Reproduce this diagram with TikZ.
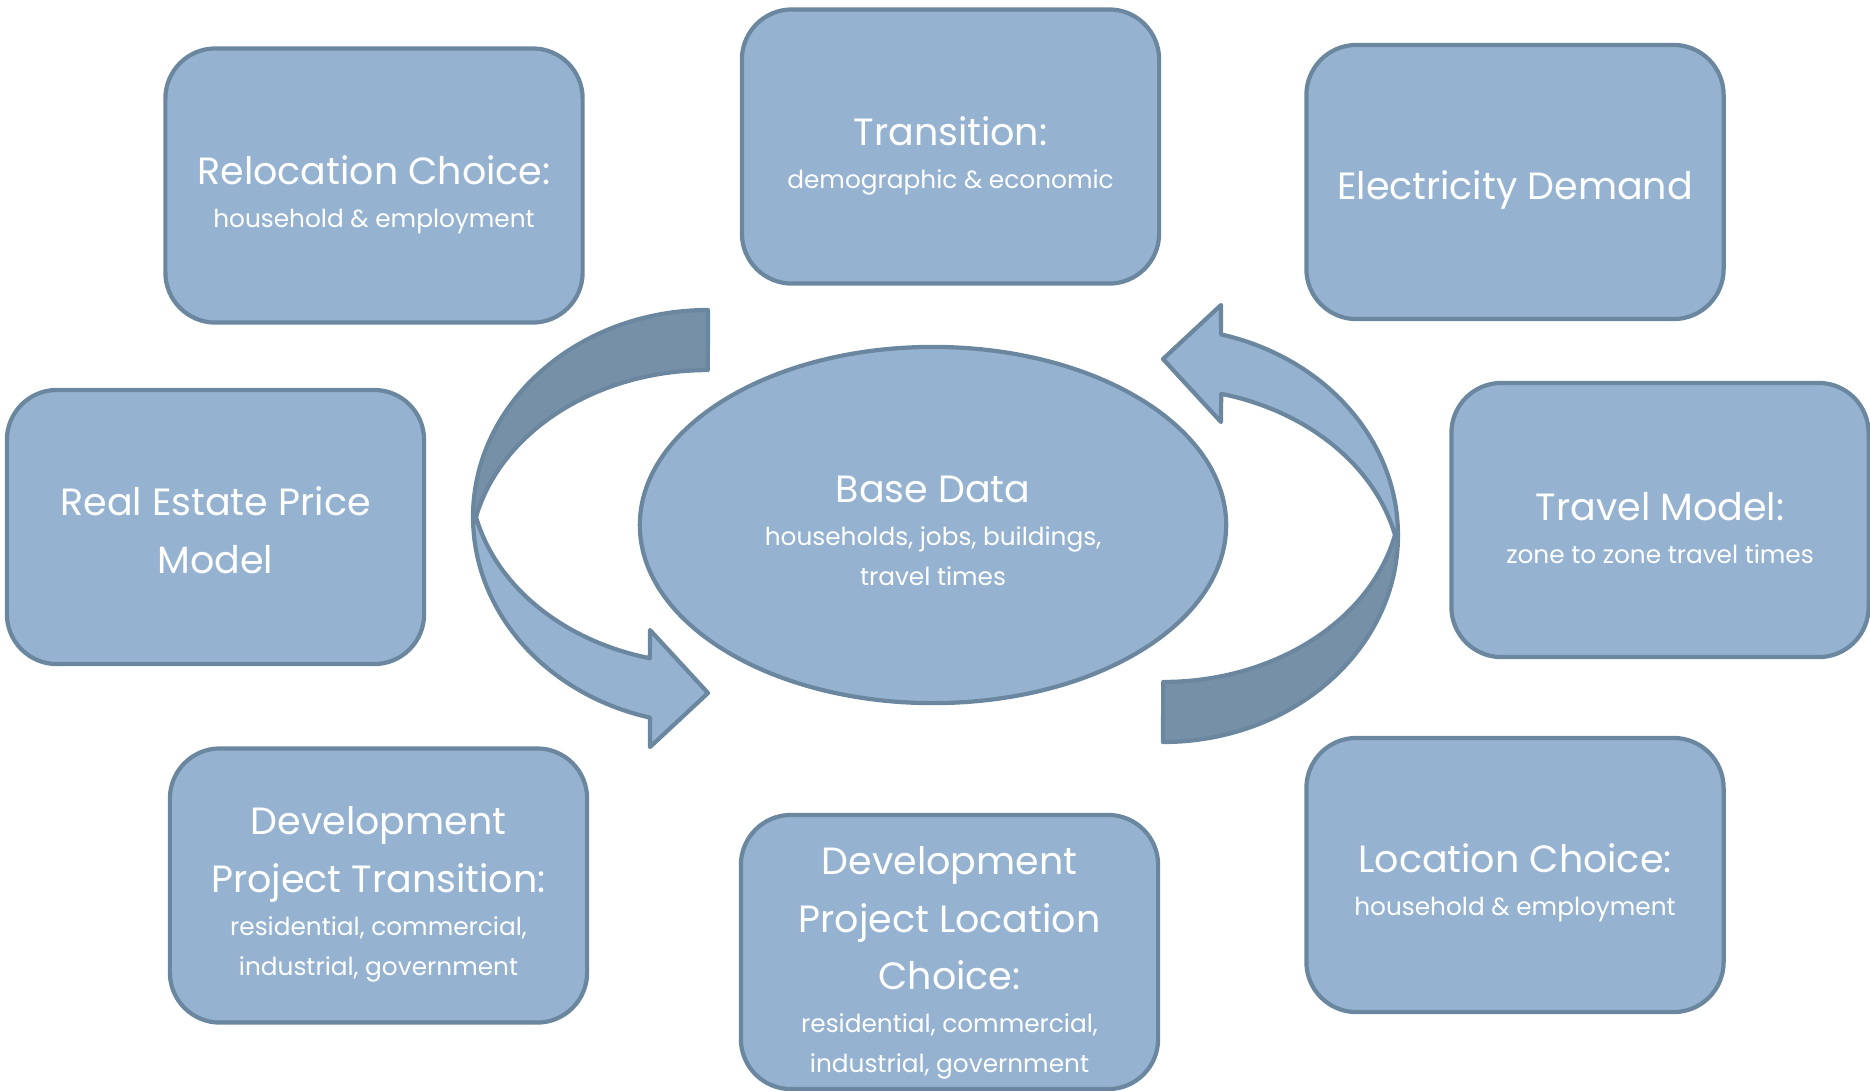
\documentclass[tikz,border=0pt]{standalone}
\usepackage{fontspec}
\setmainfont{Poppins}
\usetikzlibrary{shapes.geometric,calc}
\definecolor{panelfill}{HTML}{95B3D1}
\definecolor{panelline}{HTML}{6B87A0}
\definecolor{backfill}{HTML}{7690A8}
\newcommand{\headtx}{\fontsize{10.8}{16.4}\selectfont}
\newcommand{\subtx}{\fontsize{7.05}{10.8}\selectfont}
\begin{document}
\begin{tikzpicture}[x=0.01cm,y=-0.01cm,
  panel/.style={draw=panelline, fill=panelfill, line width=1.2pt,
    rounded corners=0.5cm, minimum width=4.17cm, minimum height=2.74cm,
    inner sep=0pt},
  hub/.style={draw=panelline, fill=panelfill, line width=1.2pt, ellipse,
    minimum width=5.86cm, minimum height=3.56cm, inner sep=0pt},
  caption/.style={text=white, align=center, inner sep=0pt, font=\headtx},
  shade/.style={draw=panelline, fill=backfill, line width=1.2pt, line join=round},
  front/.style={draw=panelline, fill=panelfill, line width=1.2pt, line join=round}]
\useasboundingbox (0,0) rectangle (1870,1090);

% centre ellipse
\node[hub] (base) at (933,525) {};
\node[caption] (base-t) at ($(base.center)+(0,6)$)
  {Base Data\\[-4.2pt]\subtx households, jobs, buildings,\\[-5pt]\subtx travel times};

% circular arrows around the centre
\newcommand{\loopshape}{%
  \path[shade] (708,310) arc[start angle=270, end angle=180, x radius=235, y radius=207]
    -- (476,517) arc[start angle=193.1, end angle=270, x radius=238, y radius=190] -- cycle;
  \path[front] (476,517) arc[start angle=166.9, end angle=104.1, x radius=238, y radius=190]
    -- (650,630) -- (708,693) -- (650,747) -- (650,717.6)
    arc[start angle=104.3, end angle=180, x radius=235, y radius=207] -- cycle;}
\loopshape
\begin{scope}[rotate around={180:(935.5,526)}]
  \loopshape
\end{scope}

% model panels
\node[panel] (reloc) at (374,185.5) {};
\node[caption] (reloc-t) at ($(reloc.center)+(0,9)$)
  {Relocation Choice:\\[-4.2pt]\subtx household \& employment};

\node[panel] (trans) at (950.5,146.5) {};
\node[caption] (trans-t) at ($(trans.center)+(0,9)$)
  {Transition:\\[-4.2pt]\subtx demographic \& economic};

\node[panel] (elec) at (1515,182) {};
\node[caption] (elec-t) at ($(elec.center)+(0,8)$) {Electricity Demand};

\node[panel] (price) at (215.5,527) {};
\node[caption] (price-t) at ($(price.center)+(0,3)$) {Real Estate Price\\Model};

\node[panel] (travel) at (1660,520) {};
\node[caption] (travel-t) at ($(travel.center)+(0,8)$)
  {Travel Model:\\[-4.2pt]\subtx zone to zone travel times};

\node[panel] (devtrans) at (378.5,885.5) {};
\node[caption] (devtrans-t) at ($(devtrans.center)+(0,9)$)
  {Development\\Project Transition:\\[-4.2pt]\subtx residential, commercial,\\[-5pt]\subtx industrial, government};

\node[panel] (devloc) at (949.5,952) {};
\node[caption] (devloc-t) at ($(devloc.center)+(0,11)$)
  {Development\\Project Location\\Choice:\\[-4.2pt]\subtx residential, commercial,\\[-5pt]\subtx industrial, government};

\node[panel] (loc) at (1515,875) {};
\node[caption] (loc-t) at ($(loc.center)+(0,8)$)
  {Location Choice:\\[-4.2pt]\subtx household \& employment};
\end{tikzpicture}
\end{document}
